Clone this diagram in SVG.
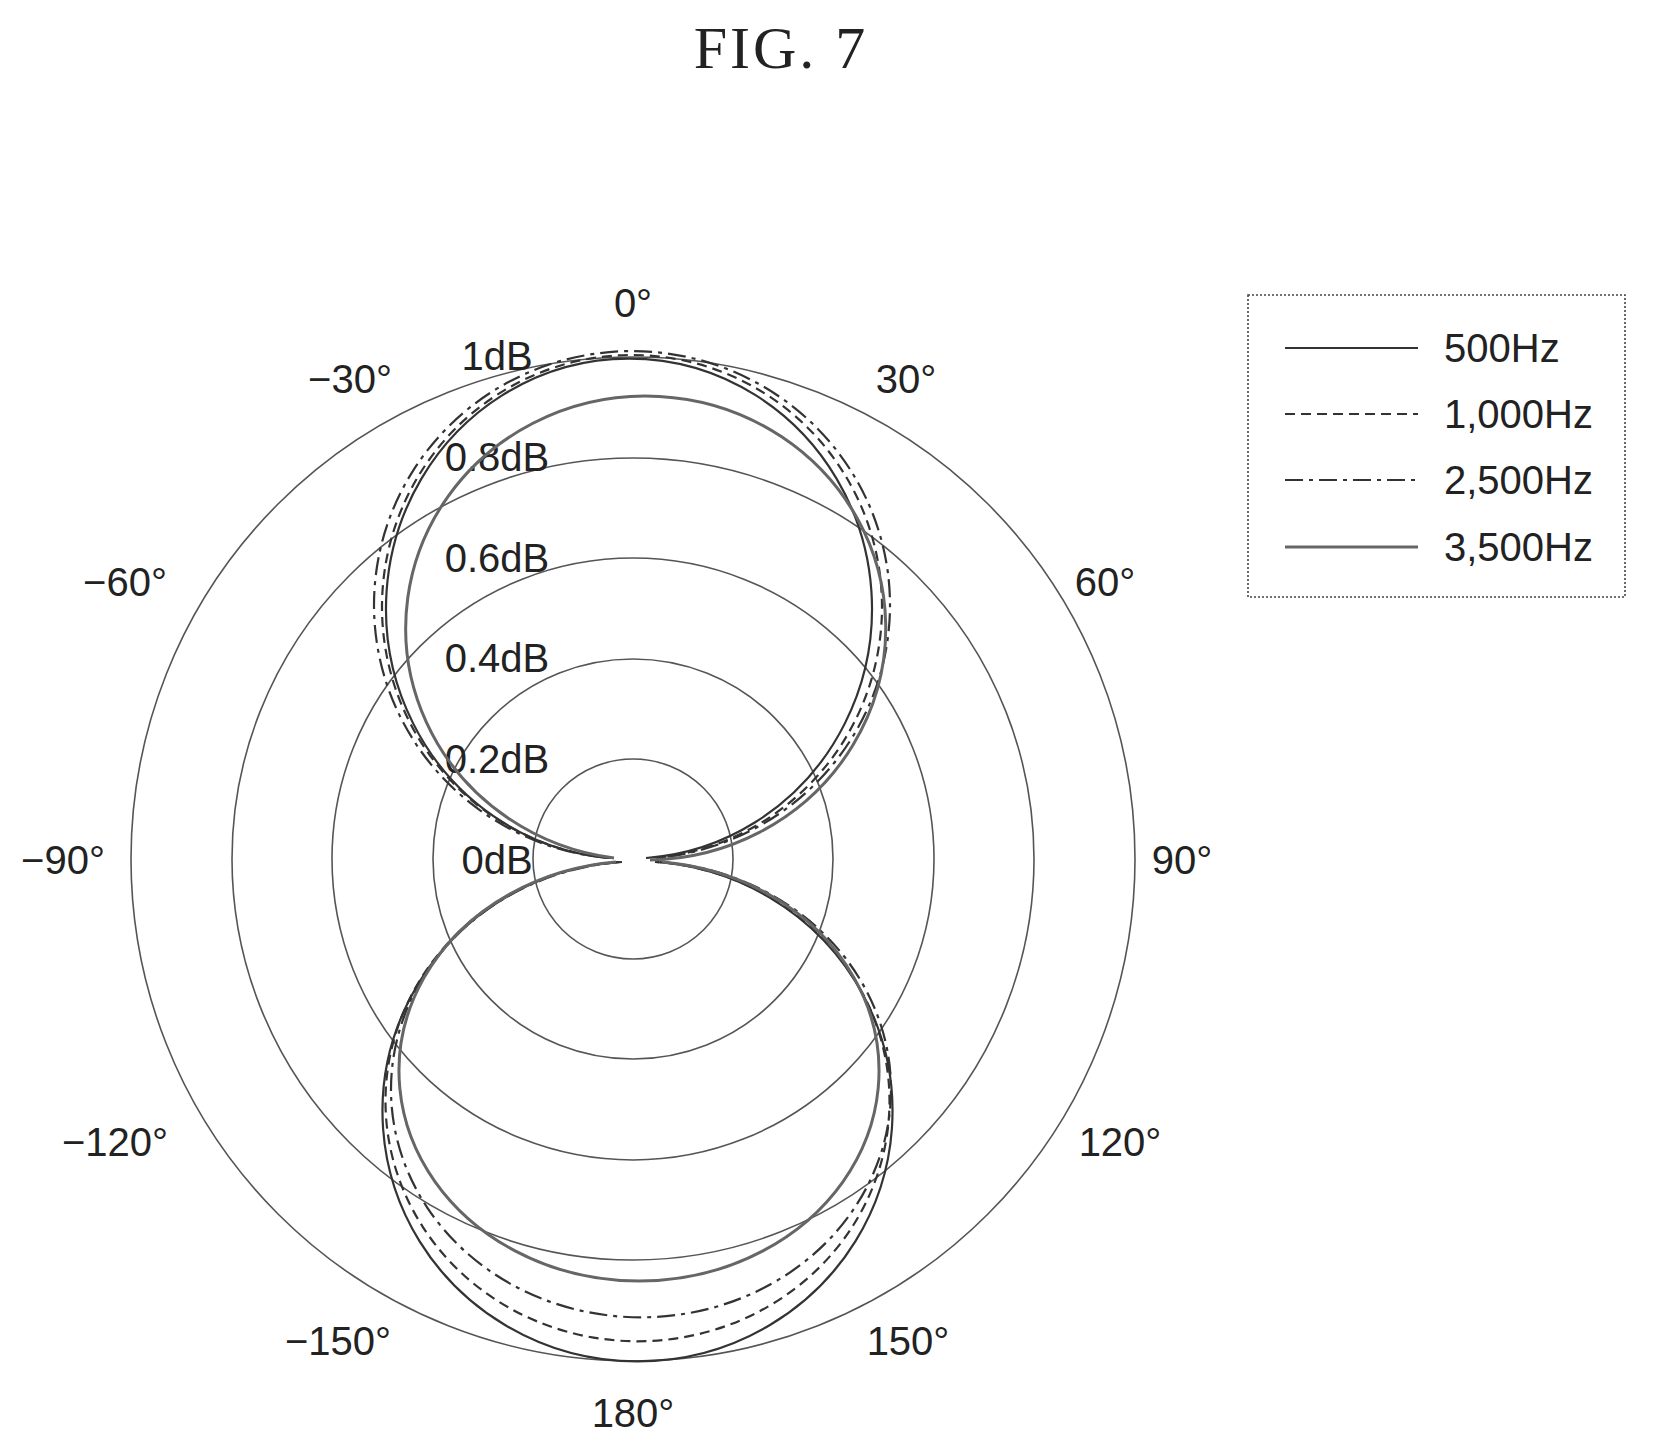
<svg xmlns="http://www.w3.org/2000/svg" width="1657" height="1445" viewBox="0 0 1657 1445">
<style>
text{font-family:"Liberation Sans",Arial,sans-serif;font-size:40px;fill:#222;text-anchor:middle}
.ring{fill:none;stroke:#555;stroke-width:1.6}
.c{fill:none;stroke:#333;stroke-width:2.2}
.s{}
.d{stroke-dasharray:10 6}
.dd{stroke-dasharray:18 6 4 6}
.g{stroke:#666;stroke-width:3}
</style>
<rect width="1657" height="1445" fill="#fff"/>
<text x="781" y="68" style="font-family:'Liberation Serif',serif;font-size:60px;letter-spacing:3px">FIG. 7</text>
<g id="grid">
<circle class="ring" cx="633" cy="859" r="100"/>
<circle class="ring" cx="633" cy="859" r="200"/>
<circle class="ring" cx="633" cy="859" r="301"/>
<circle class="ring" cx="633" cy="859" r="401"/>
<circle class="ring" cx="633" cy="859" r="502"/>
</g>
<g id="angle-labels">
<text x="633" y="317">0°</text>
<text x="906" y="393">30°</text>
<text x="350" y="393">−30°</text>
<text x="1105" y="596">60°</text>
<text x="125" y="596">−60°</text>
<text x="1182" y="874">90°</text>
<text x="63" y="874">−90°</text>
<text x="1120" y="1156">120°</text>
<text x="115" y="1156">−120°</text>
<text x="908" y="1355">150°</text>
<text x="338" y="1355">−150°</text>
<text x="633" y="1427">180°</text>
</g>
<g id="db-labels">
<text x="497" y="370">1dB</text>
<text x="497" y="471">0.8dB</text>
<text x="497" y="572">0.6dB</text>
<text x="497" y="672">0.4dB</text>
<text x="497" y="773">0.2dB</text>
<text x="497" y="874">0dB</text>
</g>
<g id="curves">
<path class="c s" d="M612,858 A243,250 0 1 1 646,858"/>
<path class="c d" d="M610,858 A250,252 0 1 1 654,858"/>
<path class="c dd" d="M608,858 A258,254 0 1 1 656,858"/>
<path class="c g" d="M614,858 A240,232 0 1 1 650,860"/>
<path class="c s" d="M620,862 A255,250 0 1 0 655,862"/>
<path class="c d" d="M618,862 A252,240 0 1 0 657,862"/>
<path class="c dd" d="M622,862 A250,228 0 1 0 660,862"/>
<path class="c g" d="M616,862 A240,210 0 1 0 662,862"/>
</g>
<g id="legend">
<rect x="1248" y="295" width="377" height="302" fill="none" stroke="#444" stroke-width="1.6" stroke-dasharray="2 2"/>
<line class="c s" x1="1285" y1="348" x2="1418" y2="348"/>
<line class="c d" x1="1285" y1="414" x2="1418" y2="414"/>
<line class="c dd" x1="1285" y1="480" x2="1418" y2="480"/>
<line class="c g" x1="1285" y1="547" x2="1418" y2="547"/>
<text x="1444" y="362" style="text-anchor:start">500Hz</text>
<text x="1444" y="428" style="text-anchor:start">1,000Hz</text>
<text x="1444" y="494" style="text-anchor:start">2,500Hz</text>
<text x="1444" y="561" style="text-anchor:start">3,500Hz</text>
</g>
</svg>
